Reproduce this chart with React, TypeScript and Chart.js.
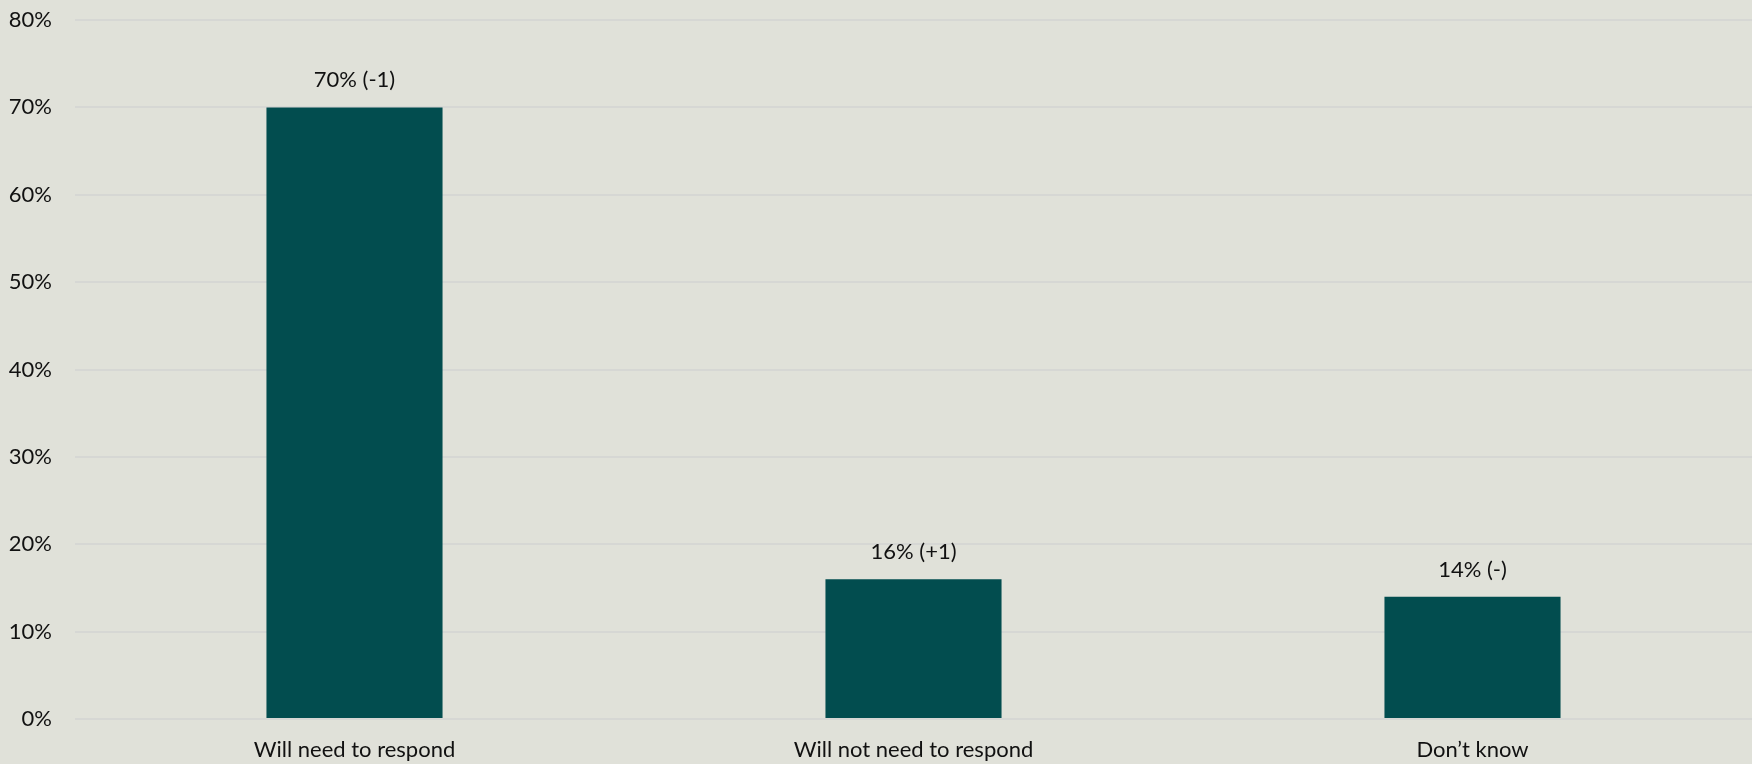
import React, { useEffect, useRef } from "react";
import { Chart, registerables } from "chart.js";

Chart.register(...registerables);

const categories = ["Will need to respond", "Will not need to respond", "Don\u2019t know"];
const values = [70, 16, 14];
const valueLabels = ["70% (-1)", "16% (+1)", "14% (-)"];
const yTicks = [0, 10, 20, 30, 40, 50, 60, 70, 80];

const FONT = "Lato, 'Open Sans', sans-serif";
const FS = 22;

const dataLabelPlugin = {
  id: "dataLabels",
  afterDatasetsDraw(chart: any) {
    const ctx = chart.ctx;
    const meta = chart.getDatasetMeta(0);
    ctx.save();
    ctx.font = `${FS}px ${FONT}`;
    ctx.fillStyle = "#111111";
    ctx.textAlign = "center";
    ctx.textBaseline = "middle";
    meta.data.forEach((bar: any, i: number) => {
      ctx.fillText(valueLabels[i], bar.x, bar.y - 27);
    });
    ctx.restore();
  },
};

const bgPlugin = {
  id: "bg",
  beforeDraw(chart: any) {
    const ctx = chart.ctx;
    ctx.save();
    ctx.fillStyle = "#E0E1D9";
    ctx.fillRect(0, 0, chart.width, chart.height);
    ctx.restore();
  },
};

export default function App() {
  const ref = useRef<HTMLCanvasElement>(null);
  useEffect(() => {
    document.body.style.margin = "0";
    const chart = new Chart(ref.current!, {
      type: "bar",
      data: {
        labels: categories,
        datasets: [
          {
            data: values,
            backgroundColor: "#024D4F",
            categoryPercentage: 1,
            barPercentage: 0.315,
          },
        ],
      },
      options: {
        animation: false,
        responsive: false,
        maintainAspectRatio: false,
        layout: { padding: { top: 20, right: 0, left: 0, bottom: 0 } },
        plugins: { legend: { display: false }, tooltip: { enabled: false } },
        scales: {
          x: {
            grid: { display: false, drawTicks: false, tickLength: 0 },
            border: { display: false },
            ticks: { color: "#111111", font: { family: FONT, size: FS }, padding: 18, maxRotation: 0 },
            afterFit(scale: any) {
              scale.height = 45;
              scale.paddingLeft = 0;
              scale.paddingRight = 0;
            },
          },
          y: {
            min: 0,
            max: 80,
            afterBuildTicks(scale: any) {
              scale.ticks = yTicks.map((v) => ({ value: v }));
            },
            grid: { color: "#D6D7D4", lineWidth: 2, drawTicks: false },
            border: { display: false },
            ticks: {
              color: "#111111",
              font: { family: FONT, size: FS },
              padding: 23,
              callback: (v: any) => `${v}%`,
            },
            afterFit(scale: any) {
              scale.width = 75;
              scale.paddingTop = 0;
              scale.paddingBottom = 0;
            },
          },
        },
      },
      plugins: [bgPlugin, dataLabelPlugin],
    });
    return () => chart.destroy();
  }, []);
  return (
    <div style={{ width: 1752, height: 764 }}>
      <canvas ref={ref} width={1752} height={764} style={{ display: "block" }} />
    </div>
  );
}
